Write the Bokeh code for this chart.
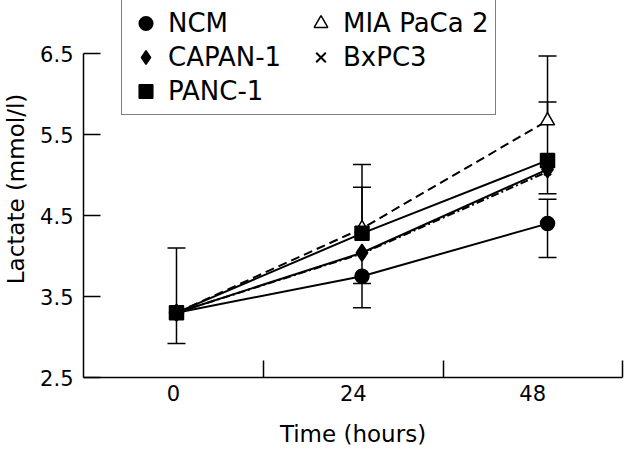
import numpy as np
from bokeh.plotting import figure
from bokeh.models import (FixedTicker, CustomJSTickFormatter, Legend, LegendItem,
                          Whisker, TeeHead, ColumnDataSource, Range1d)
from bokeh.embed import file_html
from bokeh.resources import INLINE

# ---- data ----
hours = [0, 24, 48]
tick_labels = ["0", "24", "48"]
y_ticks = [2.5, 3.5, 4.5, 5.5, 6.5]

names = ["NCM", "CAPAN-1", "PANC-1", "MIA PaCa 2", "BxPC3"]
ncm = [3.30, 3.75, 4.40]
capan1 = [3.30, 4.04, 5.07]
panc1 = [3.30, 4.28, 5.18]
miapaca2 = [3.30, 4.34, 5.67]
bxpc3 = [3.30, 4.03, 5.04]

# visible error-bar ends (None = not drawn)
ncm_upper = [None, None, 4.70]
ncm_lower = [2.92, 3.36, 3.98]
capan1_upper = [None, None, None]
capan1_lower = [None, 3.66, 4.77]
panc1_upper = [None, 4.85, 5.90]
panc1_lower = [None, None, None]
miapaca2_upper = [4.10, 5.13, 6.47]
miapaca2_lower = [None, None, None]
bxpc3_upper = [None, None, None]
bxpc3_lower = [None, None, None]

FONT = "DejaVu Sans"

# x-range and band boundaries (hours)
x_start, x_end = -12.03, 57.7
bounds = [x_start, 11.26, 34.5, 57.65]
label_pos = [(bounds[i] + bounds[i + 1]) / 2 for i in range(3)]

FRAME_H = 377
p = figure(width=640, height=454, output_backend="svg", toolbar_location=None,
           x_range=Range1d(x_start, x_end), y_range=Range1d(2.5, 2.5 + FRAME_H / 81.0),
           min_border_left=83, min_border_right=18, min_border_top=0, min_border_bottom=77)
p.outline_line_color = None
p.grid.visible = False
p.background_fill_color = "white"

series = {
    "NCM": (ncm, ncm_upper, ncm_lower, "circle", 14, "black", "solid"),
    "CAPAN-1": (capan1, capan1_upper, capan1_lower, "diamond", 17, "black", "solid"),
    "PANC-1": (panc1, panc1_upper, panc1_lower, "square", 14, "black", "solid"),
    "MIA PaCa 2": (miapaca2, miapaca2_upper, miapaca2_lower, "triangle", 14, "white", "9 5"),
    "BxPC3": (bxpc3, bxpc3_upper, bxpc3_lower, "x", 10, "black", "8 3 2 3"),
}

# lines
for n in names:
    vals, up, lo, mk, sz, fill, dash = series[n]
    p.line(hours, vals, line_color="black", line_width=2, line_dash=dash)

# error bars
for n in names:
    vals, up, lo, mk, sz, fill, dash = series[n]
    ub = [h for h, u in zip(hours, up) if u is not None]
    if ub:
        src = ColumnDataSource(dict(base=ub,
                                    lower=[v for v, u in zip(vals, up) if u is not None],
                                    upper=[u for u in up if u is not None]))
        w = Whisker(source=src, base="base", lower="lower", upper="upper", dimension="height",
                    line_color="black", line_width=1.5, lower_head=None,
                    upper_head=TeeHead(size=18, line_color="black", line_width=1.5),
                    level="underlay")
        p.add_layout(w)
    lb = [h for h, l in zip(hours, lo) if l is not None]
    if lb:
        src = ColumnDataSource(dict(base=lb,
                                    upper=[v for v, l in zip(vals, lo) if l is not None],
                                    lower=[l for l in lo if l is not None]))
        w = Whisker(source=src, base="base", lower="lower", upper="upper", dimension="height",
                    line_color="black", line_width=1.5, upper_head=None,
                    lower_head=TeeHead(size=18, line_color="black", line_width=1.5),
                    level="underlay")
        p.add_layout(w)

# markers (drawn so that PANC-1 squares end up on top)
rend = {}
for n in ["MIA PaCa 2", "BxPC3", "CAPAN-1", "NCM", "PANC-1"]:
    vals, up, lo, mk, sz, fill, dash = series[n]
    rend[n] = p.scatter(hours, vals, marker=mk, size=sz, fill_color=fill, line_color="black",
                        line_width=2 if mk == "x" else 1.5)

# axes
xa = p.xaxis[0]
xa.ticker = FixedTicker(ticks=label_pos, minor_ticks=bounds[1:])
xa.formatter = CustomJSTickFormatter(code="return %r[index];" % tick_labels)
xa.major_tick_in = 0
xa.major_tick_out = 0
xa.minor_tick_in = 17
xa.minor_tick_out = 0
xa.minor_tick_line_width = 1.5
xa.minor_tick_line_color = "black"
xa.axis_line_width = 1.5
xa.axis_line_color = "black"
xa.major_label_text_font = FONT
xa.major_label_text_font_size = "21px"
xa.major_label_text_color = "black"
xa.major_label_standoff = 7
xa.axis_label = "Time (hours)"
xa.axis_label_text_font = FONT
xa.axis_label_text_font_size = "23px"
xa.axis_label_text_font_style = "normal"
xa.axis_label_text_color = "black"
xa.axis_label_standoff = 17

ya = p.yaxis[0]
ya.ticker = FixedTicker(ticks=y_ticks, minor_ticks=[])
ya.bounds = (2.5, 6.5)
ya.major_tick_in = 17
ya.major_tick_out = 0
ya.major_tick_line_width = 1.5
ya.major_tick_line_color = "black"
ya.minor_tick_line_color = None
ya.axis_line_width = 1.5
ya.axis_line_color = "black"
ya.major_label_text_font = FONT
ya.major_label_text_font_size = "21px"
ya.major_label_text_color = "black"
ya.major_label_standoff = 10
ya.axis_label = "Lactate (mmol/l)"
ya.axis_label_text_font = FONT
ya.axis_label_text_font_size = "23px"
ya.axis_label_text_font_style = "normal"
ya.axis_label_text_color = "black"
ya.axis_label_standoff = 8

LEG_H = 114
items = [LegendItem(label=n, renderers=[rend[n]]) for n in names]
legend = Legend(items=items, location=(38, FRAME_H - LEG_H - 1), orientation="vertical", nrows=3,
                padding=6, spacing=0, glyph_width=35, glyph_height=34, label_height=34,
                label_width=135, label_standoff=5,
                label_text_font=FONT, label_text_font_size="26px", label_text_color="black",
                border_line_color="black", border_line_width=1.5,
                background_fill_color="white", background_fill_alpha=1.0)
p.add_layout(legend, "center")

open("out.html", "w").write(file_html(p, INLINE))
